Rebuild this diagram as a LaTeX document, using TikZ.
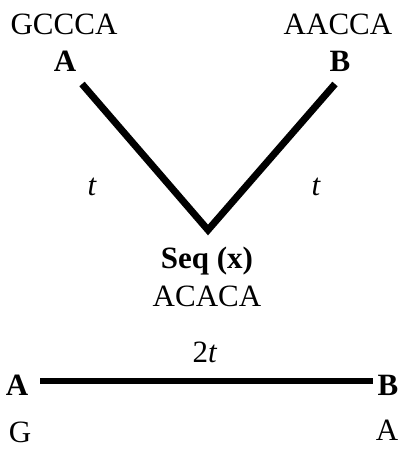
\documentclass[tikz,border=0pt]{standalone}
\usepackage{fontspec}
\setmainfont{Liberation Serif}
\begin{document}
\begin{tikzpicture}[x=1pt,y=-1pt,
  lbl/.style={inner sep=0pt,font=\fontsize{31}{33}\selectfont},
  blbl/.style={lbl,font=\fontsize{31}{33}\selectfont\bfseries},
  branch/.style={line width=7pt},
  hbranch/.style={line width=6pt}]
\useasboundingbox (0,0) rectangle (400,449);
\node[lbl] (sa) at (64,24) {GCCCA};
\node[lbl] (sb) at (338,24) {AACCA};
\node[blbl] (A) at (65,61) {A};
\node[blbl] (B) at (340,61) {B};
\coordinate (a1) at (82,84);
\coordinate (b1) at (335,84);
\coordinate (x) at (208,230);
\draw[branch,line join=miter] (a1) -- (x) -- (b1);
\node[lbl,font=\fontsize{31}{33}\selectfont\itshape] (t1) at (92,187) {t};
\node[lbl,font=\fontsize{31}{33}\selectfont\itshape] (t2) at (316,187) {t};
\node[blbl] (seq) at (207,261) {Seq (x)};
\node[lbl] (sx) at (207,296) {ACACA};
\node[blbl] (A2) at (17,385) {A};
\node[blbl] (B2) at (388,385) {B};
\coordinate (l1) at (40,381);
\coordinate (l2) at (373,381);
\draw[hbranch] (l1) -- (l2);
\node[lbl] (tt) at (205,352) {2\textit{t}};
\node[lbl,anchor=base] (G) at (20,442) {G};
\node[lbl,anchor=base] (A3) at (387,440) {A};
\end{tikzpicture}
\end{document}
